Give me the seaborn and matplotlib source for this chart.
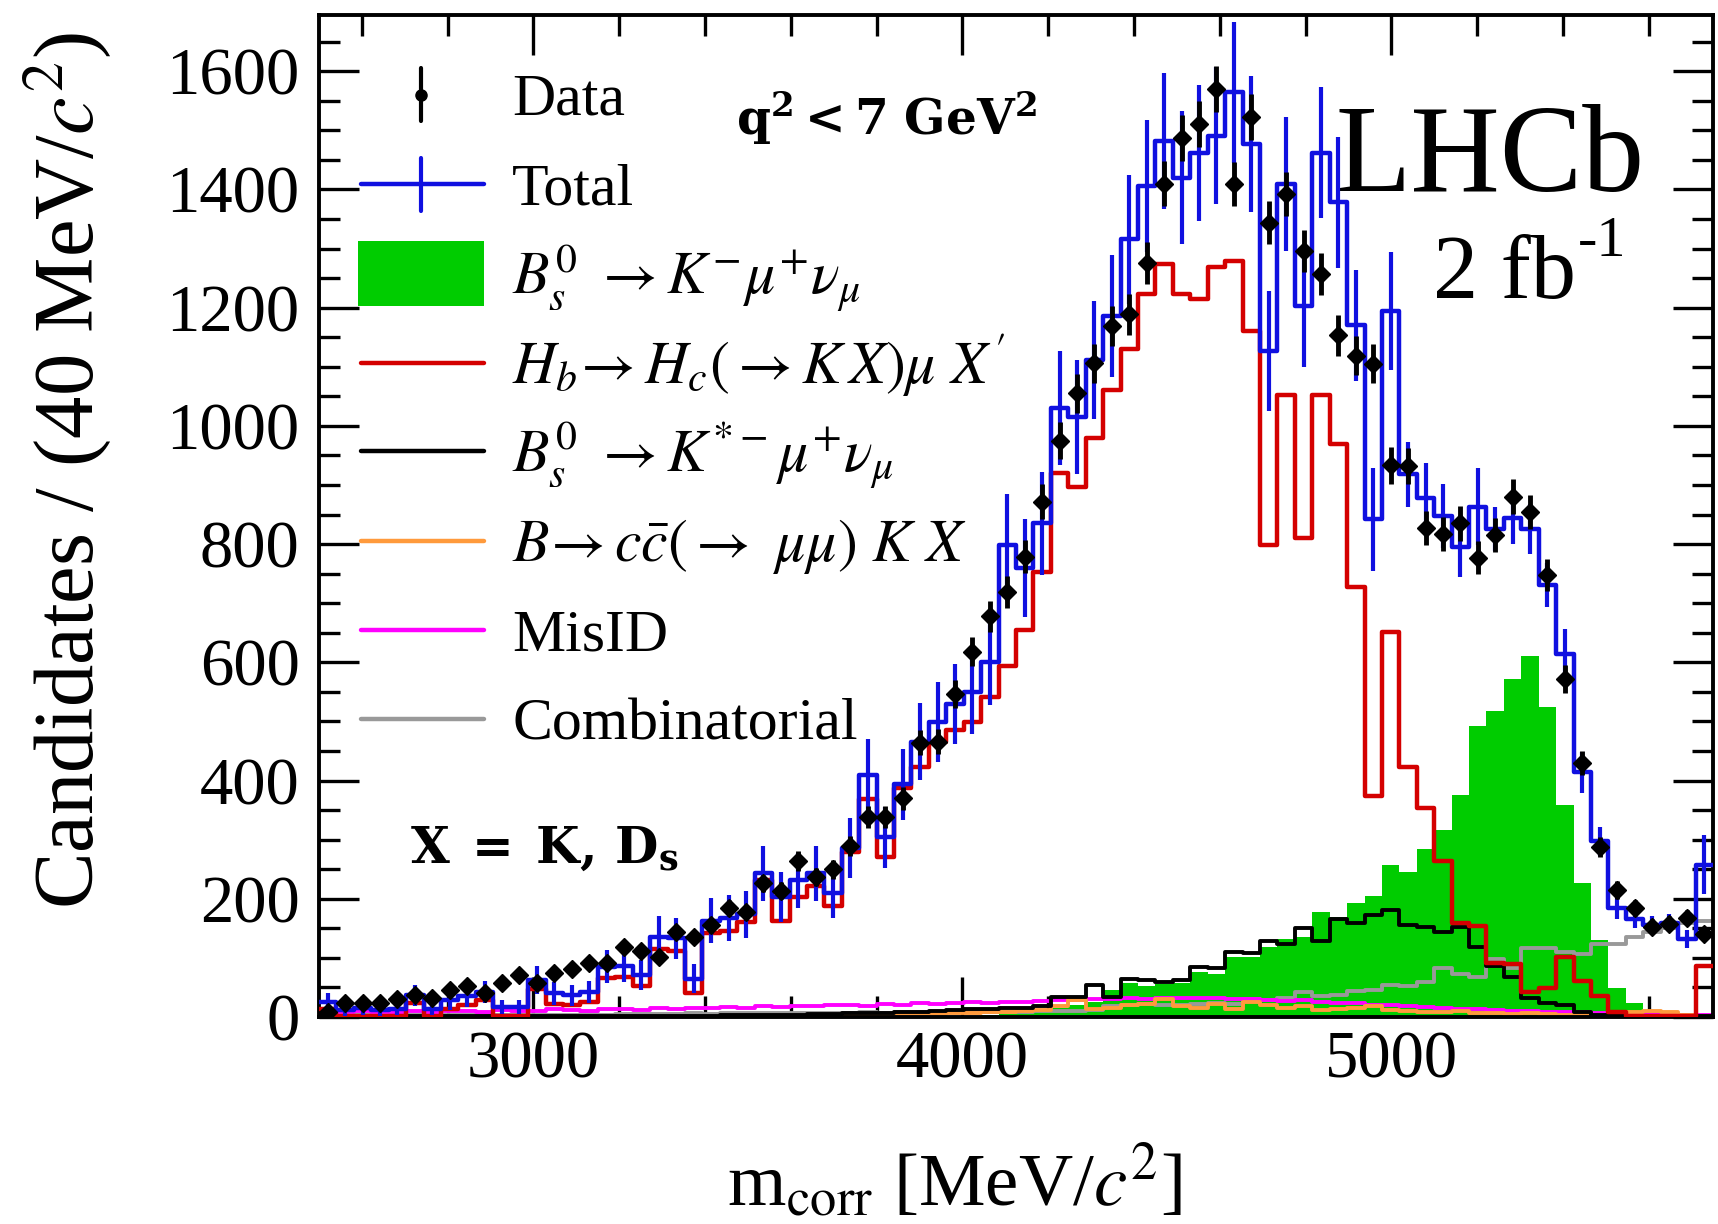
import numpy as np
import pandas as pd
import matplotlib
matplotlib.use("Agg")
import matplotlib.pyplot as plt
import seaborn as sns
from matplotlib.ticker import MultipleLocator, FixedLocator
from matplotlib.patches import Rectangle
from matplotlib.lines import Line2D

# Corrected-mass binning: 80 bins between 2500 and 5750 MeV/c^2
m_lo, m_hi, n_bins = 2500.0, 5750.0, 80
edges = np.linspace(m_lo, m_hi, n_bins + 1)
centers = 0.5 * (edges[:-1] + edges[1:])

data_counts = [
    8, 24, 23, 23, 30, 37, 32, 46, 52, 41,
    57, 71, 58, 75, 81, 92, 92, 118, 112, 102,
    144, 135, 155, 185, 177, 226, 214, 264, 237, 250,
    290, 338, 338, 370, 464, 466, 546, 618, 678, 719,
    779, 872, 975, 1055, 1106, 1169, 1189, 1276, 1410, 1487,
    1510, 1570, 1409, 1523, 1344, 1392, 1296, 1257, 1153, 1119,
    1105, 933, 932, 828, 817, 835, 777, 816, 880, 854,
    748, 572, 430, 288, 215, 185, 153, 158, 168, 140,
]

total_fit = [
    25, 12, 15, 12, 14, 37, 14, 28, 35, 42,
    17, 17, 63, 40, 37, 42, 85, 87, 71, 136,
    133, 65, 163, 168, 174, 243, 203, 231, 243, 210,
    286, 409, 304, 394, 466, 499, 530, 549, 600, 799,
    759, 835, 1030, 1015, 1112, 1186, 1316, 1406, 1482, 1420,
    1462, 1491, 1564, 1477, 1127, 1409, 1203, 1462, 1378, 1170,
    842, 1195, 918, 878, 848, 795, 863, 826, 845, 826,
    731, 614, 414, 297, 184, 166, 156, 159, 132, 258,
]

total_err = [
    15, 10, 12, 10, 11, 18, 11, 16, 18, 19,
    12, 12, 24, 19, 18, 19, 28, 28, 25, 35,
    35, 24, 38, 39, 40, 47, 43, 46, 47, 43,
    51, 61, 52, 60, 65, 67, 68, 70, 73, 85,
    83, 87, 96, 96, 100, 103, 109, 112, 115, 113,
    115, 116, 119, 115, 101, 113, 104, 111, 111, 94,
    87, 100, 55, 60, 54, 50, 65, 37, 45, 42,
    37, 43, 35, 25, 18, 16, 15, 16, 15, 50,
]

sig_k_mu_nu = [
    0, 0, 0, 0, 0, 0, 0, 0, 0, 0,
    0, 0, 0, 0, 0, 0, 0, 0, 0, 0,
    0, 0, 0, 0, 0, 0, 0, 0, 0, 0,
    0, 0, 0, 0, 0, 0, 0, 0, 3, 5,
    6, 8, 15, 20, 25, 46, 58, 53, 56, 58,
    76, 73, 101, 101, 119, 132, 135, 178, 170, 193,
    204, 258, 245, 285, 316, 376, 493, 517, 571, 611,
    525, 359, 226, 130, 49, 24, 9, 2, 0, 0,
]

hb_to_hc = [
    13, 1, 1, 1, 1, 23, 2, 13, 21, 28,
    1, 2, 48, 22, 20, 25, 66, 68, 53, 115,
    112, 41, 142, 146, 160, 231, 163, 203, 221, 188,
    279, 369, 271, 387, 423, 466, 485, 499, 542, 593,
    654, 752, 921, 896, 979, 1060, 1130, 1223, 1274, 1223,
    1215, 1268, 1279, 1161, 798, 1052, 811, 1052, 969, 728,
    374, 651, 423, 353, 264, 159, 154, 92, 89, 43,
    49, 101, 61, 36, 9, 2, 1, 1, 1, 86,
]

kstar_mu_nu = [
    1, 1, 1, 1, 1, 1, 1, 1, 1, 1,
    1, 1, 1, 1, 1, 1, 1, 1, 1, 1,
    2, 2, 2, 3, 3, 3, 4, 4, 5, 5,
    6, 6, 7, 8, 9, 10, 12, 13, 14, 16,
    15, 19, 34, 34, 55, 34, 64, 62, 60, 63,
    85, 83, 110, 108, 128, 124, 150, 128, 166, 159,
    172, 181, 156, 152, 144, 153, 119, 86, 67, 33,
    24, 21, 9, 4, 3, 2, 1, 1, 1, 1,
]

ccbar_kx = [
    0, 0, 0, 0, 0, 0, 0, 0, 0, 0,
    0, 0, 0, 0, 0, 0, 0, 0, 0, 0,
    0, 0, 0, 0, 1, 1, 1, 1, 1, 2,
    2, 3, 3, 4, 5, 5, 6, 7, 8, 9,
    10, 12, 18, 29, 14, 16, 20, 22, 31, 18,
    16, 22, 14, 26, 20, 15, 18, 12, 14, 16,
    18, 12, 10, 9, 8, 10, 6, 7, 5, 6,
    5, 4, 4, 3, 3, 8, 10, 9, 3, 2,
]

misid = [
    9, 8, 10, 8, 9, 10, 9, 11, 10, 9,
    12, 10, 11, 13, 12, 11, 14, 13, 12, 15,
    14, 16, 15, 17, 16, 18, 17, 19, 18, 20,
    21, 19, 22, 21, 23, 22, 24, 25, 23, 26,
    25, 27, 29, 28, 30, 31, 32, 31, 33, 32,
    33, 32, 31, 30, 29, 27, 28, 26, 24, 23,
    21, 20, 18, 17, 16, 14, 13, 12, 11, 10,
    9, 9, 8, 7, 6, 6, 5, 5, 4, 4,
]

combinatorial = [
    2, 2, 3, 2, 3, 3, 2, 3, 3, 4,
    3, 4, 3, 4, 4, 5, 4, 5, 5, 5,
    5, 6, 5, 6, 6, 6, 7, 6, 7, 7,
    7, 8, 7, 8, 8, 8, 9, 8, 9, 9,
    9, 10, 10, 11, 12, 18, 20, 22, 20, 21,
    22, 24, 22, 30, 28, 32, 43, 36, 38, 44,
    46, 55, 52, 60, 83, 73, 67, 98, 83, 117,
    117, 110, 107, 123, 123, 135, 144, 150, 159, 162,
]

C_BLUE = "#1010e0"
C_RED = "#d40000"
C_GREEN = "#00cc00"
C_ORANGE = "#ff9a3c"
C_MAGENTA = "#ff00ff"
C_GREY = "#999999"

sns.set_style("ticks")
plt.rcParams["font.family"] = ["Liberation Serif", "DejaVu Serif"]
plt.rcParams["mathtext.fontset"] = "stix"
for key in ("text.color", "axes.labelcolor", "xtick.color", "ytick.color",
            "axes.edgecolor"):
    plt.rcParams[key] = "black"

fig = plt.figure(figsize=(17.18, 12.24), dpi=100)
ax = fig.add_axes([0.1857, 0.1691, 0.8114, 0.8186])

bin_list = [float(e) for e in edges]


def draw_hist(values, color, lw=3.2, fill=False, zorder=2):
    frame = pd.DataFrame({"m": centers, "w": np.asarray(values, dtype=float)})
    sns.histplot(data=frame, x="m", weights="w", bins=bin_list,
                 element="step", fill=fill, color=color, linewidth=lw,
                 alpha=1.0, ax=ax, zorder=zorder)


draw_hist(sig_k_mu_nu, C_GREEN, lw=0, fill=True, zorder=1)
draw_hist(combinatorial, C_GREY, lw=2.8, zorder=2)
draw_hist(misid, C_MAGENTA, lw=2.8, zorder=2)
draw_hist(ccbar_kx, C_ORANGE, lw=2.8, zorder=2)
draw_hist(kstar_mu_nu, "black", lw=2.8, zorder=3)
draw_hist(hb_to_hc, C_RED, lw=3.2, zorder=3)
draw_hist(total_fit, C_BLUE, lw=3.2, zorder=4)
ax.errorbar(centers, total_fit, yerr=total_err, fmt="none", ecolor=C_BLUE,
            elinewidth=3.0, capsize=0, zorder=4)

data_arr = np.asarray(data_counts, dtype=float)
ax.errorbar(centers, data_arr, yerr=np.sqrt(data_arr), fmt="D", color="black",
            ms=9.5, elinewidth=3.5, capsize=0, zorder=6)

# axes, ticks and frame
ax.set_xlim(m_lo, m_hi)
ax.set_ylim(0, 1695)
ax.xaxis.set_major_locator(FixedLocator([3000, 4000, 5000]))
ax.xaxis.set_minor_locator(MultipleLocator(200))
ax.yaxis.set_major_locator(MultipleLocator(200))
ax.yaxis.set_minor_locator(MultipleLocator(50))
ax.tick_params(which="both", direction="in", top=True, right=True,
               width=2.4, labelsize=48)
ax.tick_params(axis="y", pad=14)
ax.tick_params(axis="x", pad=10)
ax.tick_params(which="major", length=29)
ax.tick_params(which="minor", length=15)
for sp in ax.spines.values():
    sp.set_linewidth(2.8)
    sp.set_visible(True)
    sp.set_color("black")

ax.set_xlabel(r"m$_{\mathrm{corr}}$ [MeV/$c^{2}$]", fontsize=54)
ax.set_ylabel(r"Candidates / (40 MeV/$c^{2}$)", fontsize=61)
ax.xaxis.set_label_coords(0.456, -0.127)
ax.yaxis.set_label_coords(-0.148, 0.546)

# annotations
ax.text(0.7289, 0.8244, "LHCb", fontsize=89, va="baseline", ha="left",
        transform=ax.transAxes)
ax.text(0.7991, 0.7176, "2 fb", fontsize=65, va="baseline", ha="left",
        transform=ax.transAxes)
ax.text(0.9030, 0.7595, "-1", fontsize=42, va="baseline", ha="left",
        transform=ax.transAxes)
ax.text(0.4071, 0.8800, r"$\mathbf{q^{2}<7\ GeV^{2}}$", fontsize=35,
        va="baseline", ha="center", transform=ax.transAxes,
        math_fontfamily="dejavuserif")
ax.text(0.0653, 0.1537, r"$\mathbf{X\;=\;K,\,D_{s}}$", fontsize=36,
        va="baseline", ha="left", transform=ax.transAxes,
        math_fontfamily="dejavuserif")

# legend, drawn entry by entry in axes coordinates
leg_x0, leg_x1, leg_xm, leg_tx = 0.0301, 0.1184, 0.0732, 0.1385
rows = [0.9207, 0.8313, 0.7419, 0.6527, 0.5649, 0.4750, 0.3862, 0.2974]
labels = [
    "Data",
    "Total",
    r"$B_s^{0}\ \rightarrow K^{-}\mu^{+}\nu_{\mu}$",
    r"$H_b\!\rightarrow H_c(\rightarrow K\,X)\mu\ X'$",
    r"$B_s^{0}\ \rightarrow K^{*-}\mu^{+}\nu_{\mu}$",
    r"$B\!\rightarrow c\bar{c}(\rightarrow\ \mu\mu)\ K\ X$",
    "MisID",
    "Combinatorial",
]
tr = ax.transAxes
# Data
ax.add_line(Line2D([leg_xm, leg_xm], [rows[0] - 0.026, rows[0] + 0.026],
                   color="black", lw=3.0, transform=tr, zorder=7))
ax.add_line(Line2D([leg_xm], [rows[0]], marker="o", ms=8, color="black",
                   transform=tr, zorder=7))
# Total
ax.add_line(Line2D([leg_x0, leg_x1], [rows[1], rows[1]], color=C_BLUE, lw=3.2,
                   transform=tr, zorder=7))
ax.add_line(Line2D([leg_xm, leg_xm], [rows[1] - 0.027, rows[1] + 0.026],
                   color=C_BLUE, lw=3.0, transform=tr, zorder=7))
# signal box
ax.add_patch(Rectangle((0.028, rows[2] - 0.0325), leg_x1 - 0.028, 0.065,
                       facecolor=C_GREEN, edgecolor="none", transform=tr,
                       zorder=7))
for r, c in zip(rows[3:], [C_RED, "black", C_ORANGE, C_MAGENTA, C_GREY]):
    ax.add_line(Line2D([leg_x0, leg_x1], [r, r], color=c, lw=3.2,
                       transform=tr, zorder=7))
for r, lab in zip(rows, labels):
    ax.text(leg_tx, r - 0.020, lab, fontsize=43, va="baseline", ha="left",
            transform=tr, zorder=7)

fig.savefig("out.png", dpi=100)
